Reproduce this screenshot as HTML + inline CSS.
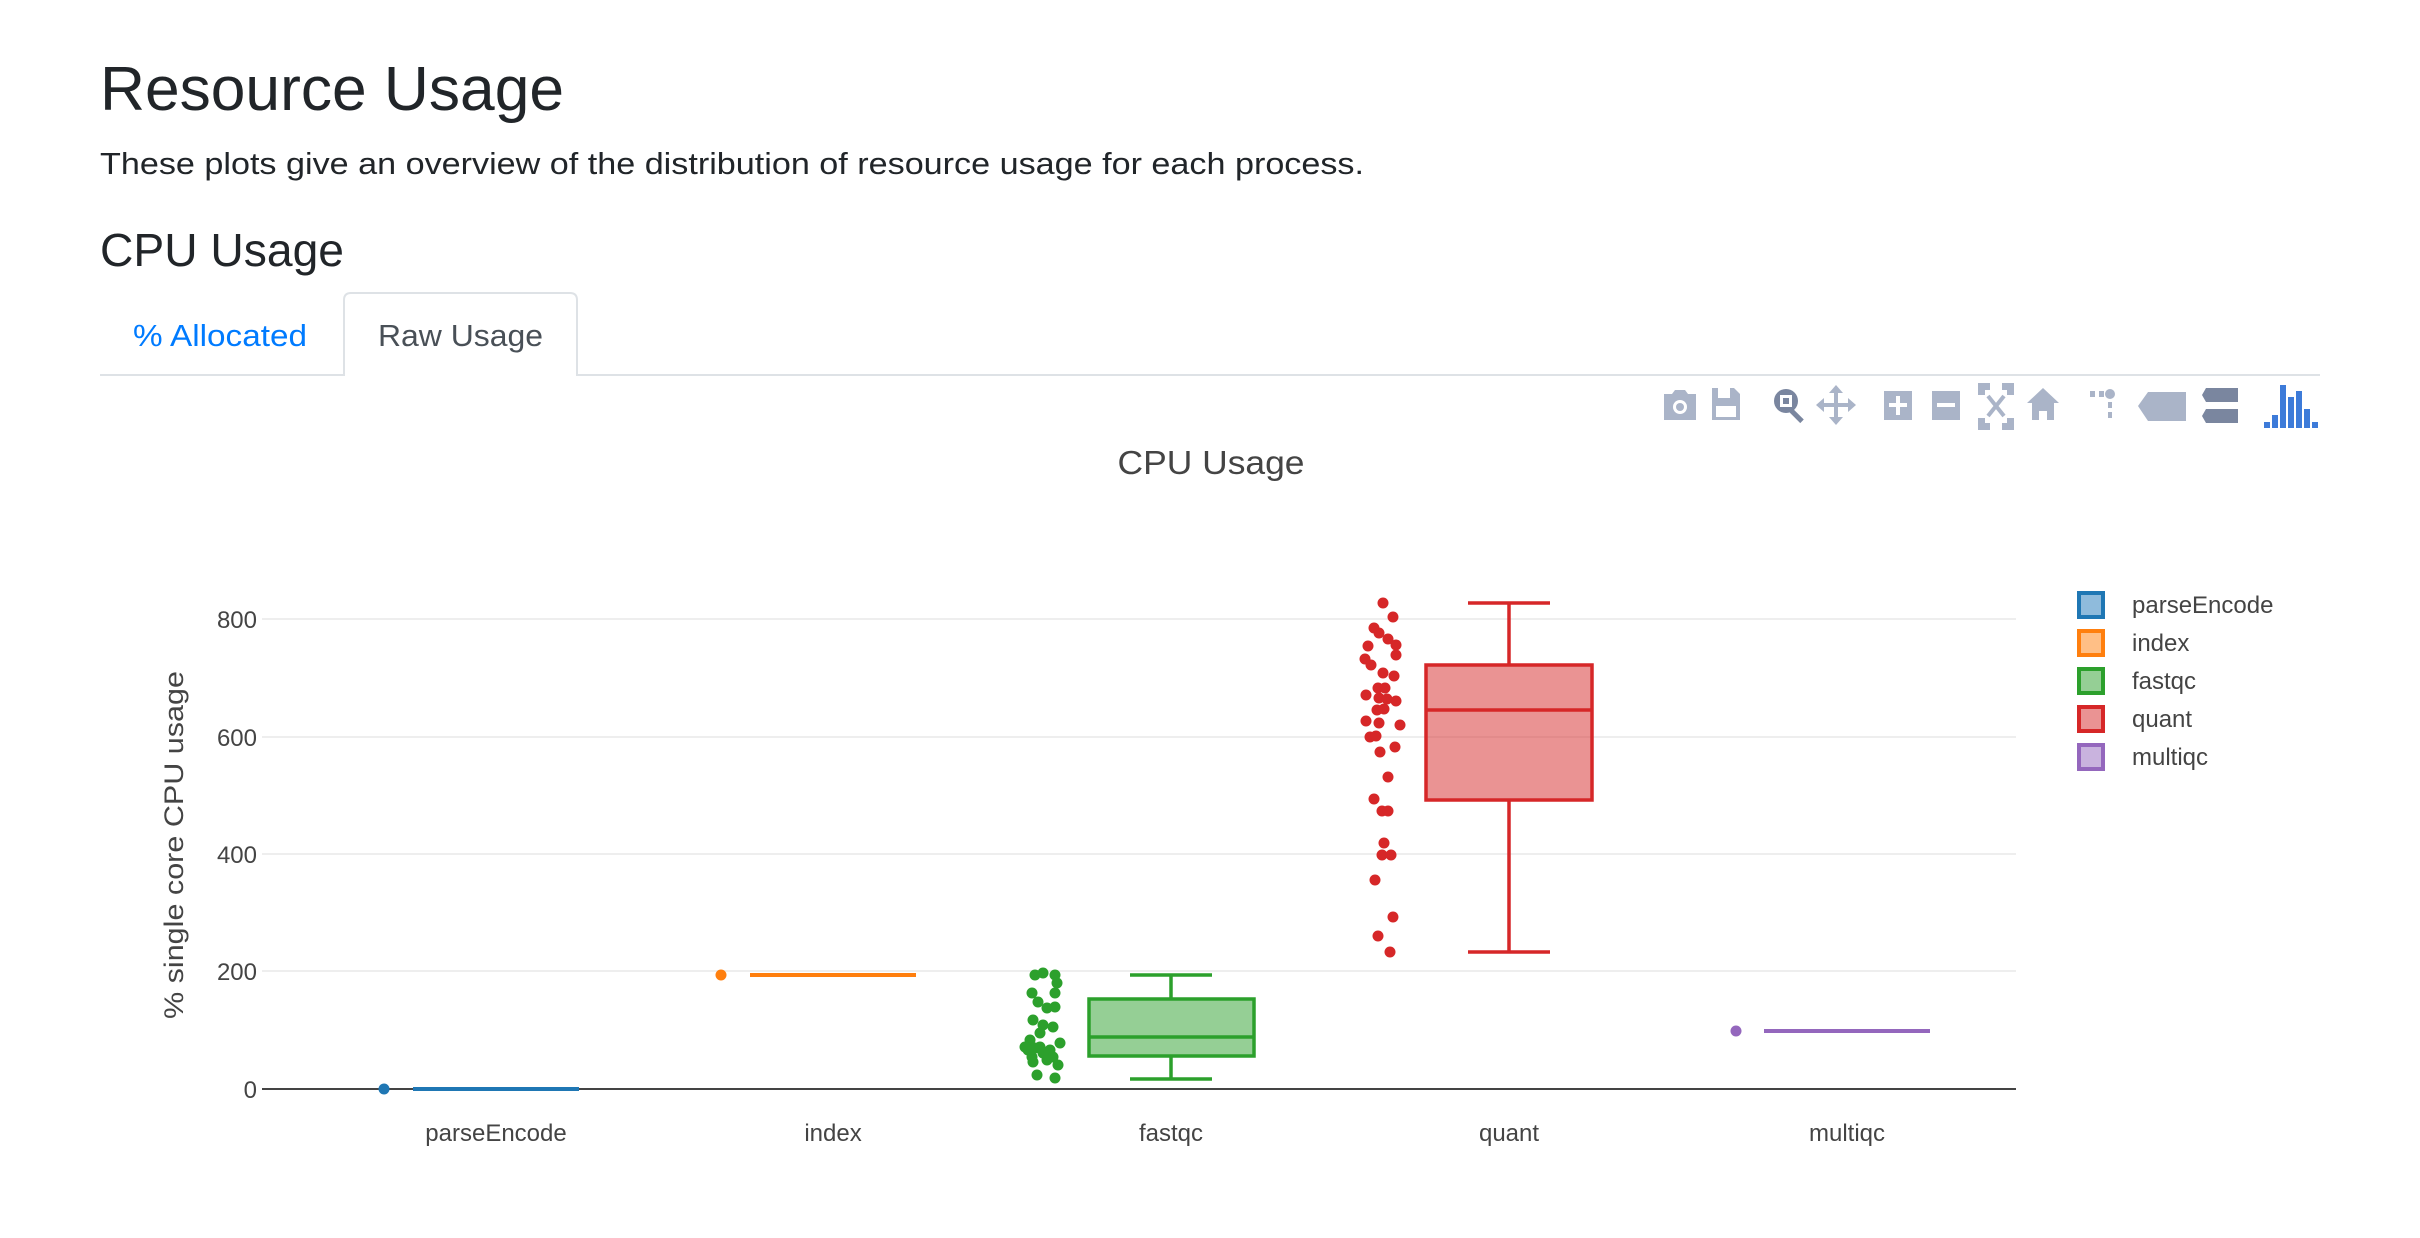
<!DOCTYPE html>
<html><head><meta charset="utf-8"><style>
html,body{margin:0;padding:0;background:#fff;width:2420px;height:1238px;overflow:hidden}
svg{display:block;font-family:"Liberation Sans","DejaVu Sans",sans-serif}
</style></head><body>
<svg width="2420" height="1238" viewBox="0 0 2420 1238" xmlns="http://www.w3.org/2000/svg">
<text x="100" y="110" font-size="62" fill="#212529" textLength="464" lengthAdjust="spacingAndGlyphs">Resource Usage</text>
<text x="100" y="174" font-size="31" fill="#212529" textLength="1264" lengthAdjust="spacingAndGlyphs">These plots give an overview of the distribution of resource usage for each process.</text>
<text x="100" y="266" font-size="46" fill="#212529" textLength="244" lengthAdjust="spacingAndGlyphs">CPU Usage</text>
<!-- tabs -->
<line x1="100" y1="375" x2="2320" y2="375" stroke="#dee2e6" stroke-width="2"/>
<path d="M344 376 V300 Q344 293 351 293 H570 Q577 293 577 300 V376" fill="#fff" stroke="#dee2e6" stroke-width="2"/>
<text x="133" y="346" font-size="31" fill="#007bff" textLength="174" lengthAdjust="spacingAndGlyphs">% Allocated</text>
<text x="378" y="346" font-size="31" fill="#495057" textLength="165" lengthAdjust="spacingAndGlyphs">Raw Usage</text>
<!-- toolbar -->
<g transform="translate(0 -4)">
<g fill="#aab4c8">
<path d="M1664 398 h8 l3 -4 h10 l3 4 h8 v26 h-32z"/>
<circle cx="1680" cy="411" r="7" fill="#fff"/><circle cx="1680" cy="411" r="4"/>
<path d="M1712 392 h22 l6 6 v26 h-28z"/>
<rect x="1718" y="392" width="12" height="10" fill="#fff"/><rect x="1716" y="410" width="20" height="11" fill="#fff"/>
<g fill="#7a869f"><circle cx="1786" cy="405" r="12"/><rect x="1794" y="412" width="5" height="16" transform="rotate(-45 1796 420)"/></g>
<rect x="1780" y="399" width="12" height="12" fill="#fff"/><rect x="1783" y="402" width="6" height="6" fill="#7a869f"/>
<path d="M1836 389 l7 8 h-5 v10 h10 v-5 l8 7 -8 7 v-5 h-10 v10 h5 l-7 8 -7 -8 h5 v-10 h-10 v5 l-8 -7 8 -7 v5 h10 v-10 h-5z"/>
<rect x="1884" y="395" width="28" height="29"/><rect x="1896" y="400" width="4" height="19" fill="#fff"/><rect x="1889" y="407" width="18" height="4" fill="#fff"/>
<rect x="1932" y="395" width="28" height="29"/><rect x="1937" y="407" width="18" height="4" fill="#fff"/>
<path d="M1980 389h8v3h-5v5h-3zM2012 389h-8v3h5v5h3zM1980 432h8v-3h-5v-5h-3zM2012 432h-8v-3h5v-5h3zM1988 400l16 20M2004 400l-16 20" stroke="#aab4c8" stroke-width="4"/>
<path d="M2043 392 l16 15 h-5 v17 h-7 v-9 h-8 v9 h-7 v-17 h-5z"/>
<rect x="2090" y="395" width="5" height="6"/><rect x="2099" y="395" width="5" height="6"/><circle cx="2110" cy="398" r="5"/><rect x="2108" y="406" width="4" height="6"/><rect x="2108" y="416" width="4" height="6"/>
<path d="M2138 410 l10 -14 h38 v29 h-38z"/>
<path fill="#7a869f" d="M2206 392h32v14h-32l-4 -7zM2206 413h32v14h-32l-4 -7z"/>
<g fill="#3d7bd9"><rect x="2264" y="426" width="6" height="6"/><rect x="2272" y="419" width="6" height="13"/><rect x="2280" y="389" width="6" height="43"/><rect x="2288" y="401" width="6" height="31"/><rect x="2296" y="395" width="6" height="37"/><rect x="2304" y="413" width="6" height="19"/><rect x="2312" y="426" width="6" height="6"/></g>
</g>
</g>
<!-- chart title -->
<text x="1211" y="474" font-size="33" fill="#444" text-anchor="middle" textLength="187" lengthAdjust="spacingAndGlyphs">CPU Usage</text>
<!-- grid -->
<g stroke="#eee" stroke-width="2">
<line x1="262" x2="2016" y1="619" y2="619"/><line x1="262" x2="2016" y1="737" y2="737"/><line x1="262" x2="2016" y1="854" y2="854"/><line x1="262" x2="2016" y1="971" y2="971"/>
</g>
<line x1="262" x2="2016" y1="1089" y2="1089" stroke="#444" stroke-width="2"/>
<g font-size="24" fill="#444" text-anchor="end">
<text x="257" y="628">800</text><text x="257" y="746">600</text><text x="257" y="863">400</text><text x="257" y="980">200</text><text x="257" y="1098">0</text>
</g>
<text transform="translate(183 845) rotate(-90)" font-size="27" fill="#444" text-anchor="middle" textLength="348" lengthAdjust="spacingAndGlyphs">% single core CPU usage</text>
<g font-size="24" fill="#444" text-anchor="middle">
<text x="496" y="1141">parseEncode</text><text x="833" y="1141">index</text><text x="1171" y="1141">fastqc</text><text x="1509" y="1141">quant</text><text x="1847" y="1141">multiqc</text>
</g>
<!-- parseEncode -->
<circle cx="384" cy="1089" r="5.5" fill="#1f77b4"/>
<line x1="413" x2="579" y1="1089" y2="1089" stroke="#1f77b4" stroke-width="4"/>
<!-- index -->
<circle cx="721" cy="975" r="5.5" fill="#ff7f0e"/>
<line x1="750" x2="916" y1="975" y2="975" stroke="#ff7f0e" stroke-width="4"/>
<!-- multiqc -->
<circle cx="1736" cy="1031" r="5.5" fill="#9467bd"/>
<line x1="1764" x2="1930" y1="1031" y2="1031" stroke="#9467bd" stroke-width="4"/>
<!-- fastqc -->
<g stroke="#2ca02c" stroke-width="3.5">
<line x1="1130" x2="1212" y1="975" y2="975"/><line x1="1130" x2="1212" y1="1079" y2="1079"/>
<line x1="1171" x2="1171" y1="975" y2="999"/><line x1="1171" x2="1171" y1="1056" y2="1079"/>
<rect x="1089" y="999" width="165" height="57" fill="rgba(44,160,44,0.5)"/>
<line x1="1089" x2="1254" y1="1037" y2="1037"/>
</g>
<g fill="#2ca02c">
<circle cx="1035" cy="975" r="5.5"/><circle cx="1043" cy="973" r="5.5"/><circle cx="1055" cy="975" r="5.5"/><circle cx="1057" cy="983" r="5.5"/><circle cx="1055" cy="993" r="5.5"/><circle cx="1032" cy="993" r="5.5"/><circle cx="1038" cy="1002" r="5.5"/><circle cx="1047" cy="1008" r="5.5"/><circle cx="1055" cy="1007" r="5.5"/><circle cx="1033" cy="1020" r="5.5"/><circle cx="1043" cy="1025" r="5.5"/><circle cx="1053" cy="1027" r="5.5"/><circle cx="1040" cy="1033" r="5.5"/><circle cx="1030" cy="1040" r="5.5"/><circle cx="1060" cy="1043" r="5.5"/><circle cx="1025" cy="1047" r="5.5"/><circle cx="1035" cy="1048" r="5.5"/><circle cx="1050" cy="1050" r="5.5"/><circle cx="1032" cy="1057" r="5.5"/><circle cx="1043" cy="1053" r="5.5"/><circle cx="1053" cy="1057" r="5.5"/><circle cx="1058" cy="1065" r="5.5"/><circle cx="1033" cy="1062" r="5.5"/><circle cx="1047" cy="1060" r="5.5"/><circle cx="1037" cy="1075" r="5.5"/><circle cx="1055" cy="1078" r="5.5"/><circle cx="1028" cy="1050" r="5.5"/><circle cx="1040" cy="1047" r="5.5"/>
</g>
<!-- quant -->
<g stroke="#d62728" stroke-width="3.5">
<line x1="1468" x2="1550" y1="603" y2="603"/><line x1="1468" x2="1550" y1="952" y2="952"/>
<line x1="1509" x2="1509" y1="603" y2="665"/><line x1="1509" x2="1509" y1="800" y2="952"/>
<rect x="1426" y="665" width="166" height="135" fill="rgba(214,39,40,0.5)"/>
<line x1="1426" x2="1592" y1="710" y2="710"/>
</g>
<g fill="#d62728">
<circle cx="1383" cy="603" r="5.5"/><circle cx="1393" cy="617" r="5.5"/><circle cx="1374" cy="628" r="5.5"/><circle cx="1379" cy="633" r="5.5"/><circle cx="1388" cy="639" r="5.5"/><circle cx="1396" cy="645" r="5.5"/><circle cx="1368" cy="646" r="5.5"/><circle cx="1396" cy="655" r="5.5"/><circle cx="1365" cy="659" r="5.5"/><circle cx="1371" cy="665" r="5.5"/><circle cx="1383" cy="673" r="5.5"/><circle cx="1394" cy="676" r="5.5"/><circle cx="1378" cy="688" r="5.5"/><circle cx="1385" cy="688" r="5.5"/><circle cx="1366" cy="695" r="5.5"/><circle cx="1379" cy="698" r="5.5"/><circle cx="1387" cy="699" r="5.5"/><circle cx="1396" cy="701" r="5.5"/><circle cx="1377" cy="710" r="5.5"/><circle cx="1384" cy="709" r="5.5"/><circle cx="1366" cy="721" r="5.5"/><circle cx="1379" cy="723" r="5.5"/><circle cx="1400" cy="725" r="5.5"/><circle cx="1370" cy="737" r="5.5"/><circle cx="1376" cy="736" r="5.5"/><circle cx="1380" cy="752" r="5.5"/><circle cx="1395" cy="747" r="5.5"/><circle cx="1388" cy="777" r="5.5"/><circle cx="1374" cy="799" r="5.5"/><circle cx="1382" cy="811" r="5.5"/><circle cx="1388" cy="811" r="5.5"/><circle cx="1384" cy="843" r="5.5"/><circle cx="1382" cy="855" r="5.5"/><circle cx="1391" cy="855" r="5.5"/><circle cx="1375" cy="880" r="5.5"/><circle cx="1393" cy="917" r="5.5"/><circle cx="1378" cy="936" r="5.5"/><circle cx="1390" cy="952" r="5.5"/>
</g>
<!-- legend -->
<g stroke-width="4">
<rect x="2079" y="593" width="24" height="24" fill="#8fbbdc" stroke="#1f77b4"/>
<rect x="2079" y="631" width="24" height="24" fill="#ffbf86" stroke="#ff7f0e"/>
<rect x="2079" y="669" width="24" height="24" fill="#95cf95" stroke="#2ca02c"/>
<rect x="2079" y="707" width="24" height="24" fill="#ea9393" stroke="#d62728"/>
<rect x="2079" y="745" width="24" height="24" fill="#c9b3de" stroke="#9467bd"/>
</g>
<g font-size="24" fill="#444">
<text x="2132" y="613">parseEncode</text><text x="2132" y="651">index</text><text x="2132" y="689">fastqc</text><text x="2132" y="727">quant</text><text x="2132" y="765">multiqc</text>
</g>
</svg>
</body></html>
